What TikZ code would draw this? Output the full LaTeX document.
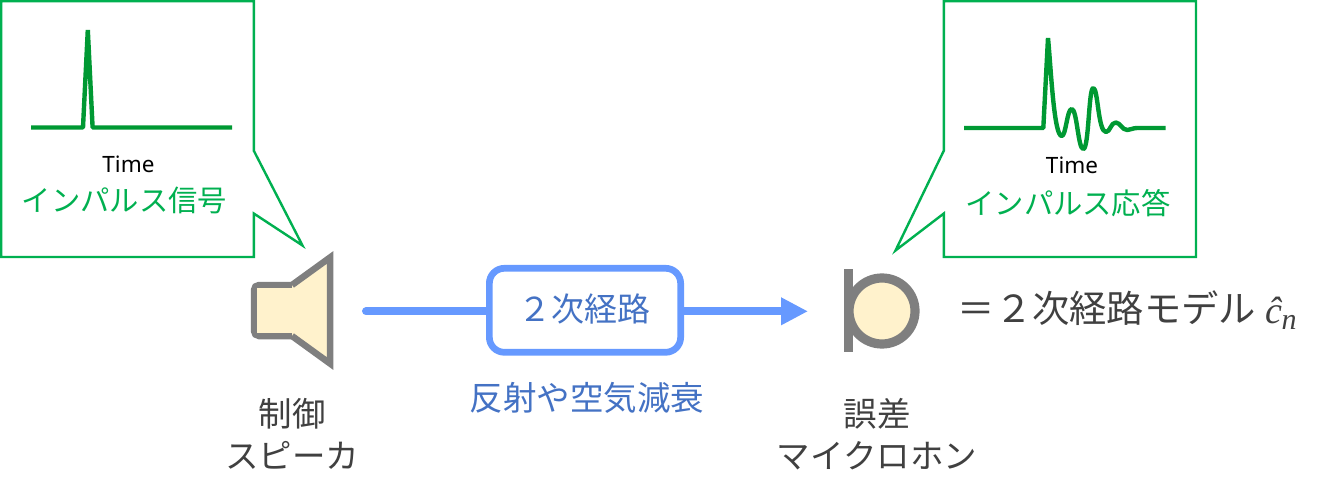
\documentclass[tikz,border=0pt]{standalone}
\usepackage{fontspec}
\setmainfont{Noto Sans}
\newfontfamily\jpfont{Noto Sans CJK JP}
\newfontfamily\mathserif{Liberation Serif}
\usetikzlibrary{arrows.meta}
\definecolor{callgreen}{HTML}{00B050}
\definecolor{wavegreen}{HTML}{009933}
\definecolor{pathblue}{HTML}{6699FF}
\definecolor{textblue}{HTML}{4472C4}
\definecolor{darktext}{HTML}{404040}
\definecolor{devgray}{HTML}{7F7F7F}
\definecolor{devfill}{HTML}{FFF2CC}
\tikzset{
  callout/.style={draw=callgreen,line width=2.4pt,fill=white,line join=miter},
  wave/.style={draw=wavegreen,line width=4.4pt,line join=bevel},
  device/.style={draw=devgray,fill=devfill},
  lbl/.style={inner sep=0pt,align=center,font=\jpfont\fontsize{33.5}{42}\selectfont,text=darktext},
  calltext/.style={inner sep=0pt,font=\jpfont\fontsize{29.3}{34}\selectfont,text=callgreen},
  timetext/.style={inner sep=0pt,font=\fontsize{22.5}{26}\selectfont,text=black},
  conn/.style={draw=pathblue,line width=8pt}
}
\begin{document}
\begin{tikzpicture}[x=1pt,y=-1pt]
\useasboundingbox (0,0) rectangle (1322,497);
% callouts
\draw[callout] (1.2,1.2) -- (253.8,1.2) -- (253.8,150.7) -- (302.5,245.5) -- (253.8,213.5) -- (253.8,257) -- (1.2,257) -- cycle;
\draw[callout] (943.8,1.2) -- (1196,1.2) -- (1196,257) -- (943.8,257) -- (943.8,213.5) -- (895.5,250.5) -- (943.8,150.7) -- cycle;
% waves
\draw[wave] (31,127.5) -- (83,127.5) -- (87.8,30) -- (92.6,127.5) -- (232,127.5);
\draw[wave] (964,128) -- (1043.3,128) -- (1048,38)
  .. controls (1051,70) and (1054,136) .. (1061.7,136)
  .. controls (1066,136) and (1067,109) .. (1071.7,109)
  .. controls (1077,109) and (1078,149) .. (1083.3,149)
  .. controls (1089,149) and (1088.5,88) .. (1093.3,88)
  .. controls (1098,88) and (1098,132) .. (1106,132)
  .. controls (1110,132) and (1111,122.5) .. (1115.7,122.5)
  .. controls (1120,122.5) and (1122,130) .. (1127.3,130)
  .. controls (1130,130) and (1133,128) .. (1137,128)
  -- (1165.7,128);
\node[timetext] (timeL) at (128.5,164) {Time};
\node[timetext] (timeR) at (1072,165.5) {Time};
\node[calltext] (impL) at (124.5,200) {インパルス信号};
\node[calltext] (impR) at (1068,203) {インパルス応答};
% speaker
\draw[device,line width=6.5pt,rounded corners=5pt] (292,285) -- (254,285) -- (254,336) -- (292,336);
\draw[device,line width=6.5pt,line join=miter] (292,285) -- (330,257.5) -- (330,363.5) -- (292,336);
\fill[devfill] (257.2,288.2) rectangle (296,332.8);
\coordinate (spk) at (366,311.3);
% path
\node[draw=pathblue,line width=6.7pt,fill=white,rounded corners=15pt,minimum width=191.3pt,minimum height=84pt,inner sep=0pt] (sec) at (585,310.3) {};
\node[lbl,text=textblue,font=\jpfont\fontsize{33}{38}\selectfont] (secT) at (584,309) {２次経路};
\coordinate (tip) at (808,311.3);
\draw[conn,line cap=round] (spk) -- (sec.west |- spk);
\draw[conn,-{Triangle[length=27pt,width=26pt]}] (sec.east |- tip) -- (tip);
% microphone
\begin{scope}
\clip (848,260) rectangle (930,360);
\node[device,circle,line width=9.2pt,minimum size=66pt,inner sep=0pt] (mic) at (882,311) {};
\end{scope}
\node[fill=devgray,minimum width=9pt,minimum height=83pt,inner sep=0pt] (micbar) at (848.5,310.8) {};
% labels
\node[lbl] (spkL) at (292,434) {制御\\スピーカ};
\node[lbl,text=textblue] (refl) at (587,398) {反射や空気減衰};
\node[lbl] (micL) at (877,434) {誤差\\マイクロホン};
\node[lbl,anchor=west,font=\jpfont\fontsize{37.3}{42}\selectfont] (model) at (957.5,308) {＝２次経路モデル};
\node[inner sep=0pt,text=darktext,anchor=base west,font=\mathserif\itshape\fontsize{38}{42}\selectfont] (hat) at (1265,323) {ĉ\kern-0.5pt\raisebox{-6pt}{\fontsize{30}{32}\selectfont n}};
\end{tikzpicture}
\end{document}
